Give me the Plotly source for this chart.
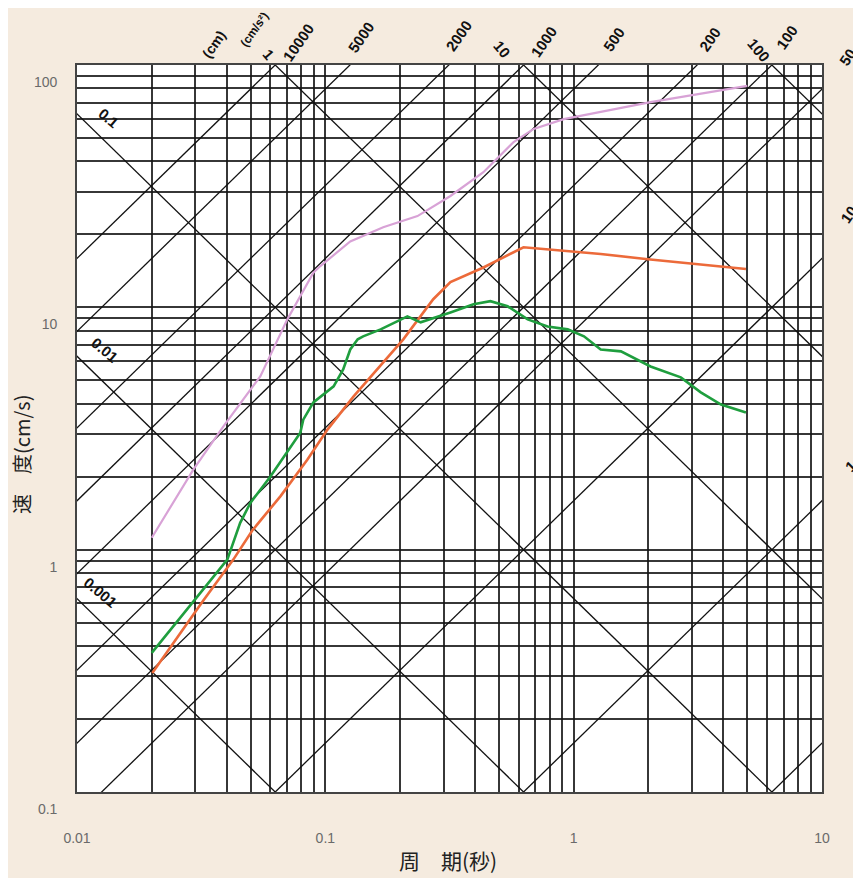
import math
import plotly.graph_objects as go

# ---------------- data ----------------
pink_period = [0.02, 0.0294, 0.0388, 0.0547, 0.0703, 0.0895, 0.0955, 0.126, 0.171,
               0.235, 0.319, 0.433, 0.573, 0.690, 0.912, 1.285, 2.04, 5.0]
pink_velocity = [1.12, 2.14, 3.22, 5.19, 8.92, 13.9, 14.8, 18.7, 21.4,
                 23.8, 28.8, 36.1, 48.1, 54.5, 59.8, 63.9, 70.3, 82.0]

orange_period = [0.0201, 0.0322, 0.0426, 0.0508, 0.0659, 0.0846, 0.102, 0.130, 0.206,
                 0.272, 0.319, 0.433, 0.628, 0.805, 1.285, 1.99, 4.94]
orange_velocity = [0.31, 0.615, 0.91, 1.20, 1.66, 2.35, 3.13, 4.29, 7.38,
                   10.8, 12.7, 14.6, 17.7, 17.3, 16.6, 15.8, 14.4]

green_period = [0.02, 0.0294, 0.0403, 0.0454, 0.0499, 0.060, 0.0703, 0.0793, 0.0815,
                0.0895, 0.108, 0.118, 0.126, 0.135, 0.142, 0.167, 0.214, 0.242,
                0.319, 0.395, 0.462, 0.542, 0.653, 0.785, 0.946, 1.10, 1.285,
                1.55, 2.04, 2.70, 3.25, 3.92, 4.94]
green_velocity = [0.375, 0.61, 0.91, 1.29, 1.56, 2.00, 2.52, 3.04, 3.44,
                  4.05, 4.72, 5.54, 6.70, 7.38, 7.59, 8.11, 9.18, 8.67,
                  9.53, 10.3, 10.6, 10.1, 8.92, 8.34, 8.11, 7.59, 6.70,
                  6.58, 5.70, 5.14, 4.46, 3.97, 3.68]

# tripartite guide lines
displacement_lines_cm = [0.001, 0.01, 0.1, 1, 10, 100]
acceleration_lines_gal = [0.1, 1, 10, 50, 100, 200, 500, 1000, 2000, 5000, 10000]

x_tick_vals = [0.01, 0.1, 1, 10]
x_tick_text = ["0.01", "0.1", "1", "10"]
y_tick_vals = [0.1, 1, 10, 100]
y_tick_text = ["0.1", "1", "10", "100"]

x_title = "周　期(秒)"
y_title = "速　度(cm/s)"

# label texts for the diagonal scales (text, page pixel centre x, y, angle, size)
diag_labels = [
    ("(cm)", 214, 44, -55, 14),
    ("(cm/s²)", 254, 30, -55, 12),
    ("1", 269, 54, 50, 15),
    ("10000", 298, 42, -55, 15),
    ("5000", 361, 38, -55, 15),
    ("2000", 458, 36, -55, 15),
    ("10", 502, 50, 50, 15),
    ("1000", 543, 42, -55, 15),
    ("500", 614, 40, -55, 15),
    ("200", 710, 40, -55, 15),
    ("100", 758, 50, 50, 15),
    ("100", 787, 38, -55, 15),
    ("50", 847, 57, -55, 15),
    ("10", 849, 215, -55, 15),
    ("1", 850, 466, -45, 15),
    ("0.1", 108, 118, 40, 15),
    ("0.01", 104, 350, 40, 15),
    ("0.001", 101, 592, 40, 15),
]

# ---------------- layout geometry ----------------
OFF = 8                      # page body margin of the browser
PAGE_W, PAGE_H = 861, 878
PLOT_L, PLOT_R, PLOT_T, PLOT_B = 77, 822, 65, 792   # page pixels of the plot frame
W, H = PAGE_W - OFF, PAGE_H - OFF
L = PLOT_L - OFF
T = PLOT_T - OFF
R = W - (PLOT_R - OFF)
B = H - (PLOT_B - OFF)
PW = PLOT_R - PLOT_L
PH = PLOT_B - PLOT_T


def px_to_paper(px, py):
    return (px - PLOT_L) / PW, (PLOT_B - py) / PH


fig = go.Figure()

# diagonal displacement lines: V = 2*pi*D/T
T_ext = [0.001, 100.0]
for d in displacement_lines_cm:
    fig.add_trace(go.Scatter(
        x=T_ext, y=[2 * math.pi * d / t for t in T_ext], mode="lines",
        line=dict(color="#111111", width=1.3), hoverinfo="skip", showlegend=False))

# diagonal acceleration lines: V = A*T/(2*pi)
for a in acceleration_lines_gal:
    fig.add_trace(go.Scatter(
        x=T_ext, y=[a * t / (2 * math.pi) for t in T_ext], mode="lines",
        line=dict(color="#111111", width=1.3), hoverinfo="skip", showlegend=False))

# response spectra
fig.add_trace(go.Scatter(x=pink_period, y=pink_velocity, mode="lines",
                         line=dict(color="#d8a2d6", width=2.2), showlegend=False))
fig.add_trace(go.Scatter(x=orange_period, y=orange_velocity, mode="lines",
                         line=dict(color="#ec6a3a", width=2.6), showlegend=False))
fig.add_trace(go.Scatter(x=green_period, y=green_velocity, mode="lines",
                         line=dict(color="#1f9e3e", width=2.6), showlegend=False))

minor_x = [m * 10 ** e for e in range(-2, 1) for m in range(2, 10)]
minor_y = [m * 10 ** e for e in range(-1, 2) for m in range(2, 10)]

tick_font = dict(family="Liberation Sans Narrow, Arial Narrow, Liberation Sans, sans-serif",
                 size=14, color="#6a6a6a")
grid_col = "rgba(20,20,20,0.85)"

fig.update_xaxes(
    type="log", range=[-2, 1], tickmode="array", tickvals=x_tick_vals, ticktext=x_tick_text,
    ticks="", showgrid=True, gridcolor=grid_col, gridwidth=1.6,
    minor=dict(tickmode="array", tickvals=minor_x, showgrid=True, gridcolor=grid_col,
               gridwidth=1.6, ticks=""),
    showline=True, linecolor="#444444", linewidth=1.6, mirror=True,
    tickfont=tick_font, ticklabelstandoff=32, zeroline=False)

fig.update_yaxes(
    type="log", range=[-1, 2], tickmode="array", tickvals=y_tick_vals, ticktext=y_tick_text,
    ticks="", showgrid=True, gridcolor=grid_col, gridwidth=1.6,
    minor=dict(tickmode="array", tickvals=minor_y, showgrid=True, gridcolor=grid_col,
               gridwidth=1.6, ticks=""),
    showline=True, linecolor="#444444", linewidth=1.6, mirror=True,
    tickfont=tick_font, ticklabelstandoff=15, ticklabelshift=17, zeroline=False)

annotations = []
label_font_family = "Liberation Sans Narrow, Arial Narrow, Liberation Sans, sans-serif"
for text, px, py, ang, size in diag_labels:
    xp, yp = px_to_paper(px, py)
    annotations.append(dict(
        text="<b>" + text + "</b>", x=xp, y=yp, xref="paper", yref="paper",
        xanchor="center", yanchor="middle", showarrow=False, textangle=ang,
        font=dict(family=label_font_family, size=size, color="#111111")))

xp, yp = px_to_paper(448, 860)
annotations.append(dict(text=x_title, x=xp, y=yp, xref="paper", yref="paper",
                        xanchor="center", yanchor="middle", showarrow=False,
                        font=dict(family="Noto Sans CJK JP", size=21, color="#222222")))
xp, yp = px_to_paper(21, 455)
annotations.append(dict(text=y_title, x=xp, y=yp, xref="paper", yref="paper",
                        xanchor="center", yanchor="middle", showarrow=False, textangle=-90,
                        font=dict(family="Noto Sans CJK JP", size=20, color="#222222")))

fig.update_layout(
    width=W, height=H, margin=dict(l=L, r=R, t=T, b=B, pad=0),
    paper_bgcolor="#f5ebdf", plot_bgcolor="#ffffff",
    annotations=annotations, showlegend=False)

fig.write_html("out.html")
